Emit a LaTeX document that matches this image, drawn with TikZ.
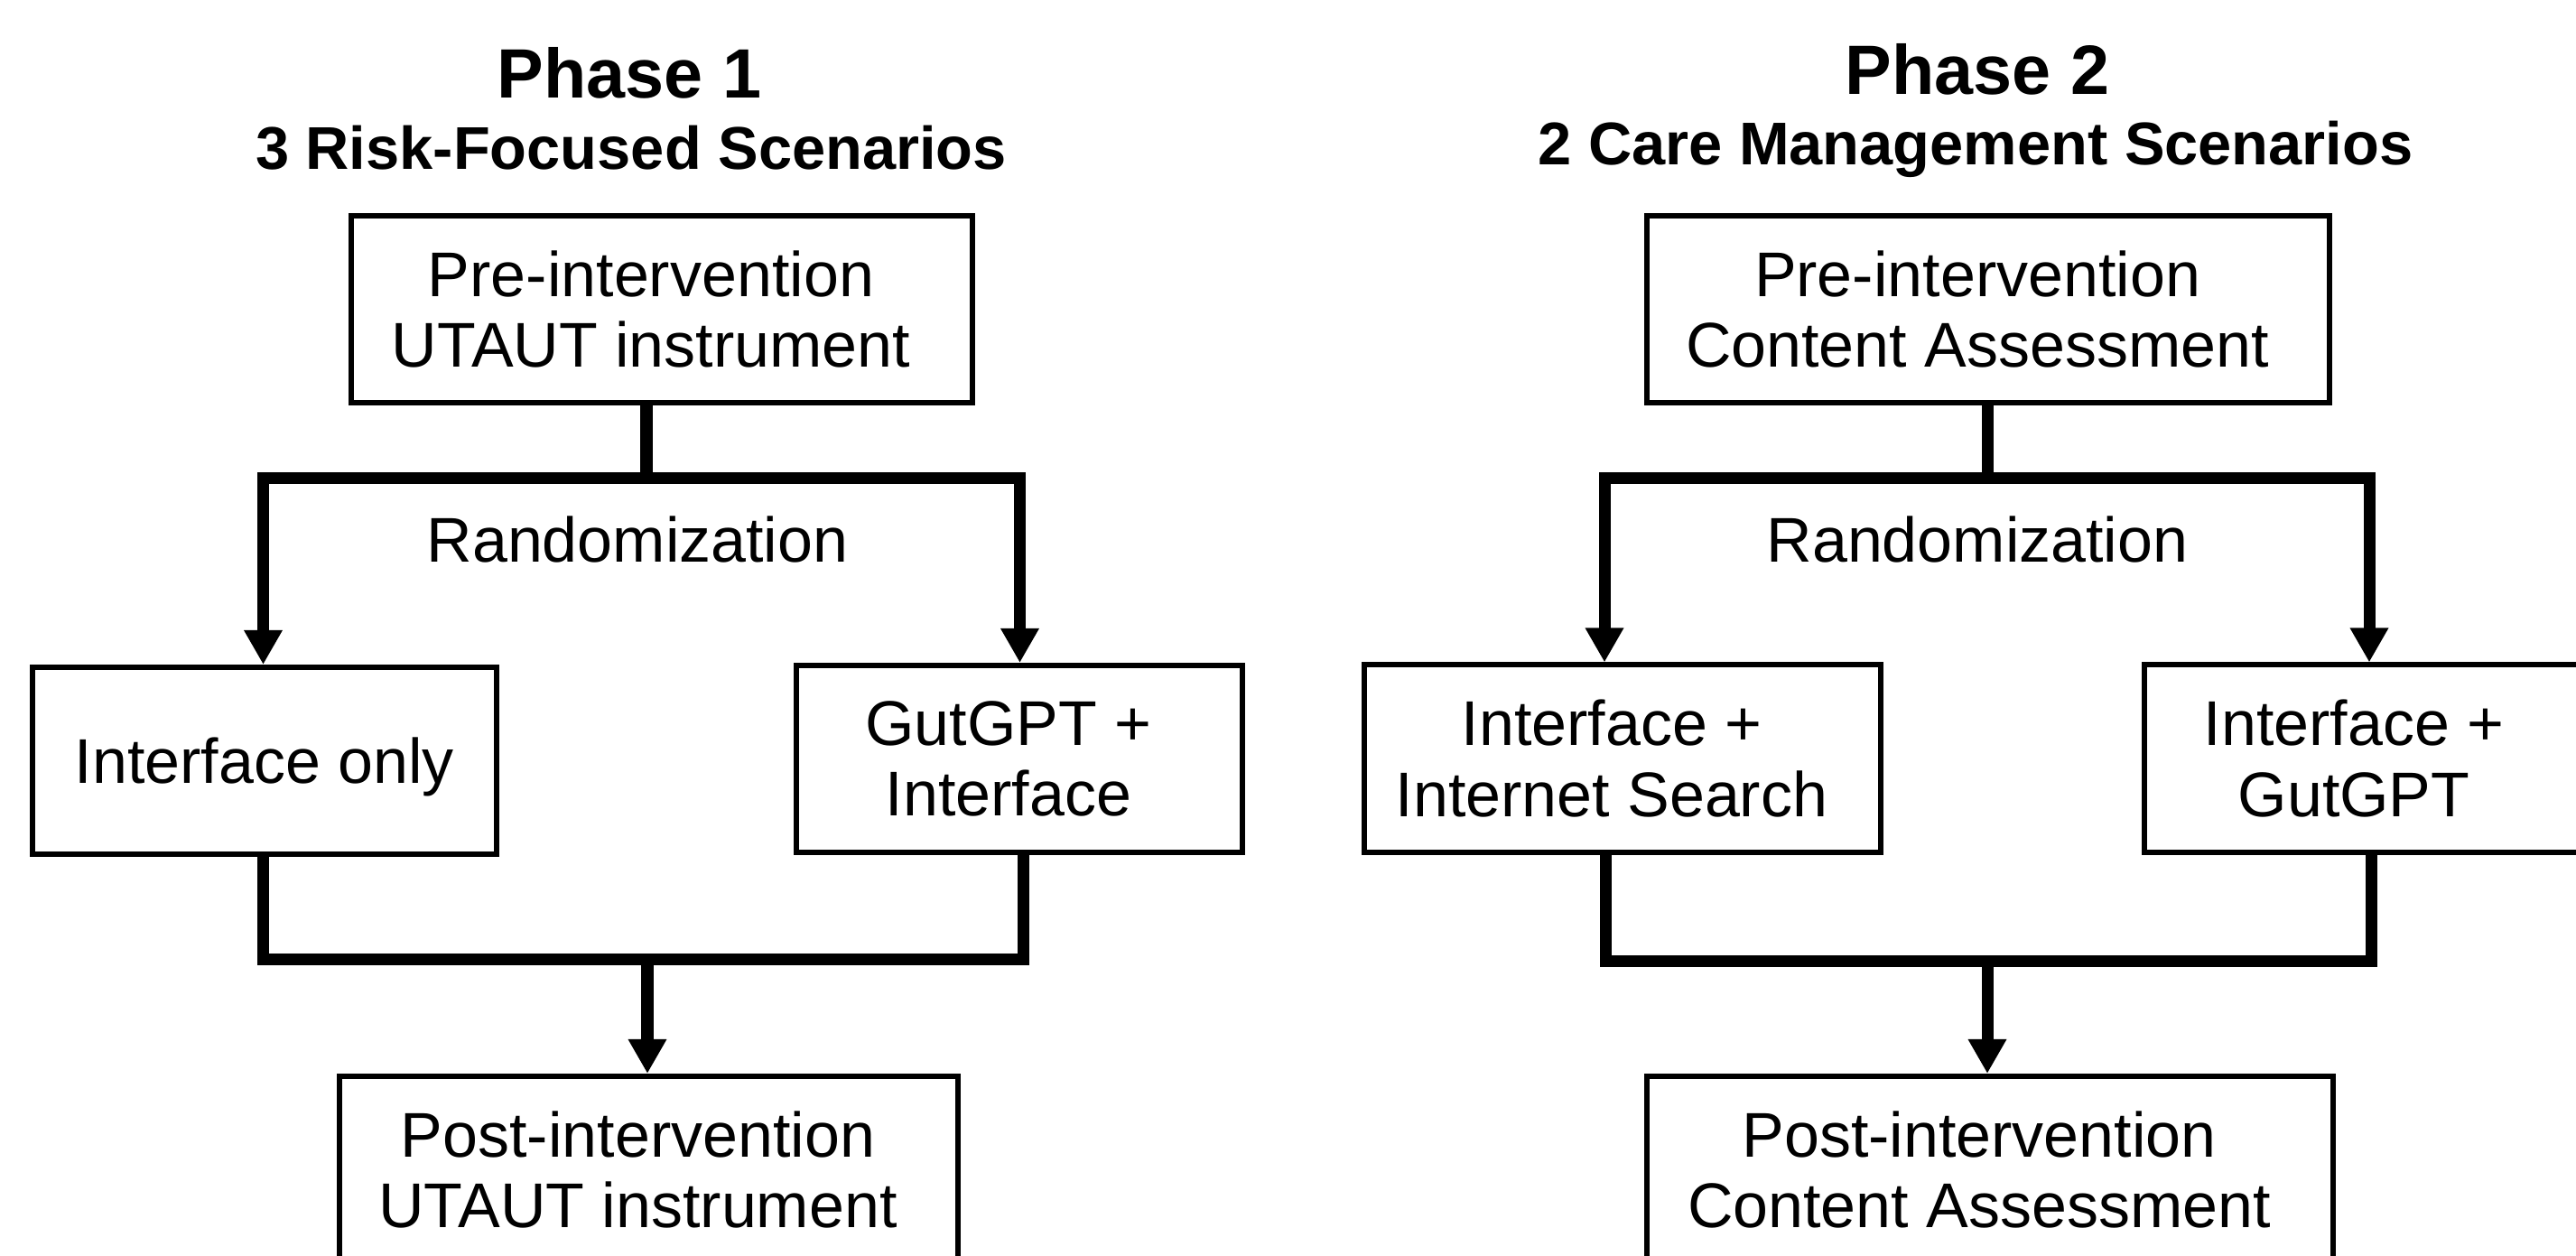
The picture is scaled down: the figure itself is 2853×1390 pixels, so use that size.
\documentclass[tikz,border=0pt]{standalone}
\usepackage{fontspec}
\setmainfont{Liberation Sans}
\usepackage{tikz}
\usetikzlibrary{arrows.meta,positioning}
\newcommand{\tsh}{\hspace*{-0.24cm}}
\tikzset{
  box/.style={draw, line width=1.7pt, minimum height=2.07cm, inner sep=0pt,
    align=center, font=\fontsize{19.9}{22.2}\selectfont},
  phase/.style={anchor=base, font=\bfseries\fontsize{22}{26}\selectfont},
  scen/.style={anchor=base, font=\bfseries\fontsize{19}{23}\selectfont},
  lbl/.style={anchor=base, font=\fontsize{19.9}{22.2}\selectfont},
  flow/.style={line width=3.7pt, line join=miter},
  flowhead/.style={flow, -{Triangle[width=0.4cm,length=0.38cm]}},
  flowsplit/.style={flow, {Triangle[width=0.4cm,length=0.38cm]}-{Triangle[width=0.4cm,length=0.38cm]}}
}
\begin{document}
\begin{tikzpicture}[x=0.01cm,y=-0.01cm]
  \useasboundingbox (0,0) rectangle (2853,1390);
  \clip (0,0) rectangle (2853,1390);

  % phase 1
  \node[phase] (ph1) at (697,108) {Phase 1};
  \node[scen] (sub1) at (699,187) {3 Risk-Focused Scenarios};
  \node[box, minimum width=6.88cm] (pre1) at (733,342.5) {\tsh Pre-intervention\\\tsh UTAUT instrument};
  \node[lbl] (rand1) at (706,622) {Randomization};
  \node[box, minimum width=5.14cm, text depth=0pt] (iface1) at (293,842.5) {Interface only};
  \node[box, minimum width=4.93cm] (gut1) at (1129,840.5) {\tsh GutGPT +\\\tsh Interface};
  \node[box, minimum width=6.85cm] (post1) at (718.5,1295.5) {\tsh Post-intervention\\\tsh UTAUT instrument};

  \coordinate (r1) at (716,529.5);
  \coordinate (k1) at (291.5,529.5);
  \coordinate (k2) at (1129.5,529.5);
  \coordinate (m1) at (717,1062);
  \coordinate (j1) at (291.5,1062);
  \coordinate (j2) at (1133,1062);
  \draw[flow] (pre1.south -| r1) -- (r1);
  \draw[flowsplit] (iface1.north -| k1) -- (k1) -- (k2) -- (gut1.north -| k2);
  \draw[flow] (iface1.south -| j1) -- (j1) -- (j2) -- (gut1.south -| j2);
  \draw[flowhead] (m1) -- (post1.north -| m1);

  % phase 2
  \node[phase] (ph2) at (2190,104) {Phase 2};
  \node[scen] (sub2) at (2188,182) {2 Care Management Scenarios};
  \node[box, minimum width=7.56cm] (pre2) at (2202,342.5) {\tsh Pre-intervention\\\tsh Content Assessment};
  \node[lbl] (rand2) at (2190,622) {Randomization};
  \node[box, minimum width=5.72cm] (search2) at (1797,840) {\tsh Interface +\\\tsh Internet Search};
  \node[box, minimum width=4.88cm] (gut2) at (2619,840) {\tsh Interface +\\\tsh GutGPT};
  \node[box, minimum width=7.60cm] (post2) at (2204,1295.5) {\tsh Post-intervention\\\tsh Content Assessment};

  \coordinate (r2) at (2201,529.5);
  \coordinate (k3) at (1777,529.5);
  \coordinate (k4) at (2624,529.5);
  \coordinate (m2) at (2201,1064);
  \coordinate (j3) at (1778,1064);
  \coordinate (j4) at (2626,1064);
  \draw[flow] (pre2.south -| r2) -- (r2);
  \draw[flowsplit] (search2.north -| k3) -- (k3) -- (k4) -- (gut2.north -| k4);
  \draw[flow] (search2.south -| j3) -- (j3) -- (j4) -- (gut2.south -| j4);
  \draw[flowhead] (m2) -- (post2.north -| m2);
\end{tikzpicture}
\end{document}
